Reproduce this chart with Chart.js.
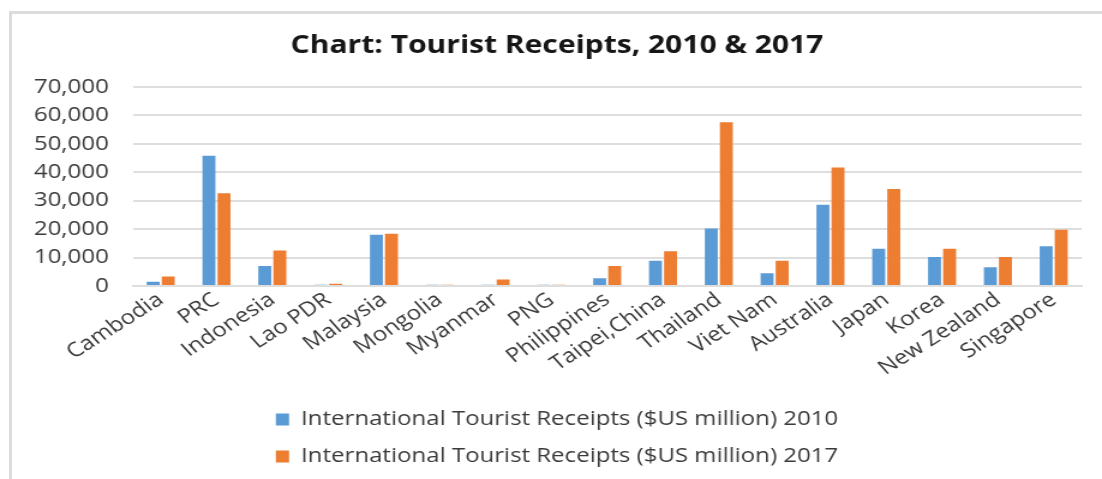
<!DOCTYPE html>
<html>
<head>
<meta charset="utf-8">
<title>Tourist Receipts, 2010 & 2017</title>
<script src="https://cdn.jsdelivr.net/npm/chart.js@4/dist/chart.umd.min.js"></script>
<style>
    html, body { margin: 0; padding: 0; background: #fff; }
    .frame {
        position: absolute;
        left: 9px;
        top: 11px;
        width: 1093px;
        height: 468px;
        border-left: 3px solid #dcdcdc;
        border-top: 3px solid #dcdcdc;
        overflow: hidden;
    }
</style>
</head>
<body>
<div class="frame">
    <!-- drawn 908 wide, shown 1090 wide: the sheet export is stretched sideways -->
    <canvas id="receiptsChart" width="908" height="465" style="display:block;width:1090px;height:465px"></canvas>
</div>
<script>
// ── Data ($US million) ───────────────────────────────────────
const economies = [
    "Cambodia", "PRC", "Indonesia", "Lao PDR", "Malaysia", "Mongolia",
    "Myanmar", "PNG", "Philippines", "Taipei,China", "Thailand", "Viet Nam",
    "Australia", "Japan", "Korea", "New Zealand", "Singapore"
];
const receipts2010 = [1500, 45800, 7000, 400, 18000, 400, 400, 400, 2700, 8900, 20200, 4500, 28600, 13100, 10200, 6600, 14000];
const receipts2017 = [3300, 32600, 12500, 800, 18400, 400, 2300, 400, 7000, 12200, 57600, 8900, 41700, 34100, 13100, 10200, 19800];
const yTicks = [0, 10000, 20000, 30000, 40000, 50000, 60000, 70000];

const label2010 = "International Tourist Receipts ($US million) 2010";
const label2017 = "International Tourist Receipts ($US million) 2017";

// ── Chart ────────────────────────────────────────────────────
const FONT = "'Open Sans', 'DejaVu Sans', sans-serif";
const textColor = "#3a3a3a";
const gridColor = "#dedede";

const ctx = document.getElementById("receiptsChart").getContext("2d");

new Chart(ctx, {
    type: "bar",
    data: {
        labels: economies,
        datasets: [
            { label: label2010, data: receipts2010, backgroundColor: "#5b9bd5" },
            { label: label2017, data: receipts2017, backgroundColor: "#ed7d31" }
        ]
    },
    options: {
        responsive: false,
        animation: false,
        devicePixelRatio: 1,
        categoryPercentage: 0.54,
        barPercentage: 0.86,
        layout: { padding: { top: 0, left: 17, right: 17, bottom: 2.5 } },
        plugins: {
            title: {
                display: true,
                text: "Chart: Tourist Receipts, 2010 & 2017",
                color: "#161616",
                font: { family: FONT, size: 25, weight: "bold" },
                padding: { top: 17, bottom: 26 }
            },
            legend: {
                position: "bottom",
                labels: {
                    color: textColor,
                    font: { family: FONT, size: 20 },
                    boxWidth: 11,
                    boxHeight: 12,
                    padding: 17
                }
            },
            tooltip: { enabled: false }
        },
        scales: {
            x: {
                grid: { display: false, drawTicks: false },
                border: { display: true, color: gridColor, width: 2 },
                ticks: {
                    color: textColor,
                    font: { family: FONT, size: 20 },
                    minRotation: 37,
                    maxRotation: 37,
                    autoSkip: false,
                    padding: 2
                },
                afterFit: scale => { scale.height = 106.5; }
            },
            y: {
                min: 0,
                max: 70000,
                grid: { color: gridColor, lineWidth: 2, drawTicks: false },
                border: { display: false },
                afterBuildTicks: scale => { scale.ticks = yTicks.map(v => ({ value: v })); },
                ticks: {
                    color: textColor,
                    font: { family: FONT, size: 20 },
                    padding: 20,
                    callback: v => v.toLocaleString("en-US")
                },
                afterFit: scale => { scale.width = 83.6; }
            }
        }
    }
});
</script>
</body>
</html>
